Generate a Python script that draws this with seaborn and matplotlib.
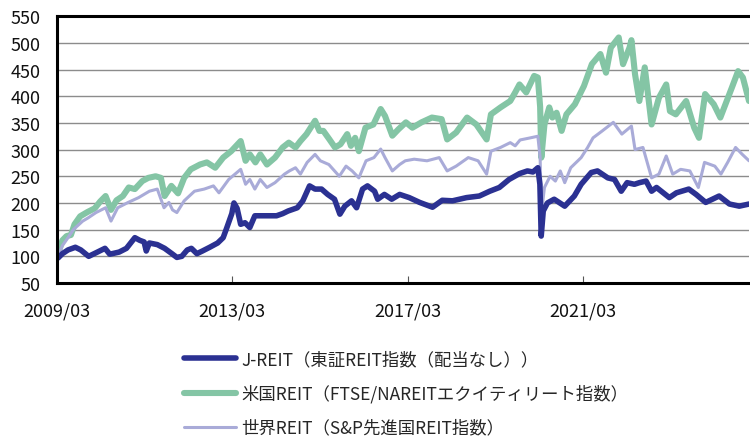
import matplotlib
matplotlib.use("Agg")
import matplotlib.pyplot as plt
import seaborn as sns
import pandas as pd

# ---------------- data ----------------
jreit_dates = ["2009-03-10","2009-04-15","2009-06-01","2009-08-01","2009-09-15","2009-11-20",
    "2010-02-01","2010-04-05","2010-05-15","2010-08-01","2010-10-01","2010-12-10",
    "2011-01-20","2011-02-25","2011-03-15","2011-04-10","2011-06-15","2011-08-15","2011-10-15","2011-11-25",
    "2012-01-05","2012-02-20","2012-03-25","2012-05-10","2012-06-25","2012-08-25","2012-10-30","2012-12-15",
    "2013-01-15","2013-02-25","2013-03-15","2013-04-10","2013-05-10","2013-06-15","2013-07-25","2013-09-05","2013-12-10",
    "2014-03-05","2014-04-25","2014-06-10","2014-08-25","2014-10-10","2014-12-05",
    "2015-01-20","2015-03-15","2015-05-05","2015-07-01","2015-08-15","2015-09-25","2015-11-20",
    "2016-01-01","2016-02-20","2016-04-01","2016-05-30","2016-06-25","2016-08-20","2016-10-20","2016-12-25",
    "2017-03-15","2017-06-10","2017-09-25","2017-12-15",
    "2018-03-10","2018-07-05","2018-10-20",
    "2019-01-15","2019-04-05","2019-06-25","2019-09-20","2019-11-25",
    "2020-01-10","2020-02-20","2020-03-08","2020-03-19","2020-04-05","2020-05-10","2020-07-05","2020-10-01","2020-12-20",
    "2021-02-15","2021-05-10","2021-07-01","2021-09-25","2021-11-20",
    "2022-01-15","2022-03-05","2022-05-05","2022-06-15","2022-08-10","2022-09-25","2022-11-05",
    "2023-02-20","2023-04-20","2023-08-01","2023-10-01","2023-12-20",
    "2024-04-10","2024-07-05","2024-09-25","2024-12-15"]
jreit_vals = [97,105,112,117,112,100,
    108,115,104,108,115,135,
    130,127,110,125,122,115,105,98,
    100,112,115,105,110,117,125,135,
    154,180,200,190,160,163,154,176,176,
    176,180,185,191,204,232,
    226,226,216,207,179,194,204,
    191,226,232,222,207,216,207,216,
    210,201,192,205,
    204,210,213,
    222,229,244,255,260,
    258,266,235,138,185,200,207,194,213,
    235,257,260,247,244,
    222,238,235,238,241,222,229,
    210,219,226,216,201,
    213,198,194,198]

us_dates = ["2009-03-10","2009-04-15","2009-05-20","2009-06-25","2009-07-25","2009-09-10","2009-11-10",
    "2010-01-10","2010-02-25","2010-04-10","2010-05-25","2010-07-10","2010-09-01","2010-10-20","2010-12-10",
    "2011-02-10","2011-04-01","2011-06-01","2011-07-15","2011-08-15","2011-10-10","2011-12-05",
    "2012-01-25","2012-03-20","2012-06-05","2012-08-01","2012-10-10","2012-12-15",
    "2013-02-20","2013-05-10","2013-06-20","2013-07-25","2013-09-10","2013-10-20","2013-12-15",
    "2014-02-20","2014-04-25","2014-06-15","2014-08-10","2014-09-20","2014-11-10",
    "2015-01-20","2015-02-25","2015-03-30","2015-05-20","2015-07-05","2015-08-20","2015-10-15","2015-11-15","2015-12-20",
    "2016-01-20","2016-03-15","2016-05-20","2016-07-20","2016-08-25","2016-10-25","2016-12-15",
    "2017-02-15","2017-04-10","2017-06-25","2017-09-20","2017-12-10",
    "2018-01-25","2018-04-10","2018-07-10","2018-09-25","2018-12-20",
    "2019-01-25","2019-04-15","2019-07-05","2019-08-15","2019-09-20","2019-11-15",
    "2020-01-20","2020-02-20","2020-03-10","2020-03-20","2020-04-15","2020-05-25","2020-06-20","2020-07-25","2020-09-05","2020-10-15","2020-12-25",
    "2021-03-10","2021-05-15","2021-07-25","2021-09-10","2021-10-20","2021-12-25",
    "2022-01-30","2022-03-25","2022-04-10","2022-05-10","2022-06-15","2022-07-30","2022-09-25","2022-11-25",
    "2023-01-25","2023-02-25","2023-04-15","2023-07-10","2023-09-15","2023-10-25","2023-12-15",
    "2024-02-25","2024-04-20","2024-07-25","2024-09-15","2024-10-25","2024-12-15"]
us_vals = [105,130,138,140,160,175,183,
    190,203,213,187,205,213,229,226,
    241,247,250,247,213,232,218,
    247,263,272,276,266,285,
    297,316,279,291,276,291,272,
    285,304,313,304,316,329,
    354,335,335,319,304,310,329,307,322,
    297,341,347,376,363,326,338,
    351,341,351,360,357,
    319,332,360,347,319,
    366,379,391,407,422,407,
    438,435,380,285,347,379,360,369,335,366,385,
    419,460,479,444,491,510,
    460,491,505,441,391,454,347,397,
    422,372,366,391,341,322,404,
    385,360,416,447,435,391]

world_dates = ["2009-03-10","2009-04-15","2009-06-01","2009-07-15","2009-10-01","2009-11-15",
    "2010-01-20","2010-04-10","2010-05-25","2010-07-20","2010-10-15",
    "2011-01-10","2011-04-10","2011-06-15","2011-08-10","2011-09-20","2011-10-20","2011-11-25",
    "2012-01-25","2012-04-20","2012-07-10","2012-09-25","2012-11-10",
    "2013-01-30","2013-05-10","2013-06-20","2013-07-25","2013-09-05","2013-10-20","2013-12-15",
    "2014-02-20","2014-05-10","2014-06-20","2014-08-10","2014-09-20","2014-11-15",
    "2015-01-20","2015-03-05","2015-05-15","2015-08-10","2015-10-05","2015-11-25",
    "2016-01-20","2016-03-20","2016-05-25","2016-07-20","2016-08-25","2016-10-25","2016-12-25",
    "2017-02-10","2017-04-25","2017-08-10","2017-11-20",
    "2018-01-25","2018-04-10","2018-07-20","2018-10-10","2018-12-20",
    "2019-01-25","2019-04-15","2019-07-05","2019-08-15","2019-09-25","2019-12-20",
    "2020-02-20","2020-03-10","2020-03-20","2020-04-15","2020-06-01","2020-07-15","2020-08-25","2020-10-01","2020-11-20",
    "2021-02-15","2021-04-10","2021-05-25","2021-08-10","2021-11-10",
    "2022-01-20","2022-04-10","2022-05-10","2022-07-15","2022-09-25","2022-11-25",
    "2023-01-25","2023-03-20","2023-05-25","2023-08-10","2023-10-20","2023-12-10",
    "2024-03-05","2024-04-25","2024-06-20","2024-08-25","2024-10-20","2024-12-15"]
world_vals = [100,120,135,150,166,172,
    182,191,166,191,201,
    210,222,226,191,201,187,182,
    204,222,226,232,219,
    244,263,235,244,226,244,229,
    238,254,260,266,254,276,
    291,279,272,250,269,260,
    247,279,285,301,285,260,272,
    279,282,279,285,
    260,269,285,279,254,
    297,304,313,307,318,322,
    325,285,180,229,250,241,260,238,266,
    285,304,322,335,351,
    329,344,300,304,247,254,
    288,254,263,260,229,276,
    269,254,276,304,291,279]

labels = ["J-REIT（東証REIT指数（配当なし））",
          "米国REIT（FTSE/NAREITエクイティリート指数）",
          "世界REIT（S&P先進国REIT指数）"]
colors = ["#2b3192", "#84c5a5", "#a9abd8"]
y_ticks = list(range(50, 551, 50))
x_tick_dates = ["2009-03-01", "2013-03-01", "2017-03-01", "2021-03-01"]
x_tick_labels = ["2009/03", "2013/03", "2017/03", "2021/03"]

# ---------------- plot ----------------
sns.set_theme(style="white")
plt.rcParams["font.family"] = ["Noto Sans CJK JP", "DejaVu Sans"]

fig = plt.figure(figsize=(7.5, 4.39), dpi=100)
ax = fig.add_axes([0.076, 0.353, 0.923, 0.608])

series = [
    (us_dates, us_vals, labels[1], colors[1], 4.4),
    (world_dates, world_vals, labels[2], colors[2], 2.2),
    (jreit_dates, jreit_vals, labels[0], colors[0], 4.0),
]
handles = {}
for d, v, lab, col, lw in series:
    df = pd.DataFrame({"date": pd.to_datetime(d), "value": v})
    sns.lineplot(data=df, x="date", y="value", ax=ax, color=col, linewidth=lw,
                 legend=False, solid_joinstyle="round", solid_capstyle="round")
    handles[lab] = ax.lines[-1]

ax.set_ylim(50, 550)
ax.set_yticks(y_ticks)
ax.set_yticklabels([str(t) for t in y_ticks], fontsize=13)
ax.set_xlim(pd.Timestamp("2009-03-01"), pd.Timestamp("2024-12-17"))
ax.set_xticks(pd.to_datetime(x_tick_dates))
ax.set_xticklabels(x_tick_labels, fontsize=13)
ax.set_xlabel("")
ax.set_ylabel("")

ax.grid(axis="y", color="#8c8c8c", linewidth=1.0)
ax.grid(axis="x", visible=False)
ax.set_axisbelow(True)

ax.tick_params(axis="y", length=0, pad=12, labelcolor="#111111")
ax.tick_params(axis="x", direction="in", length=5, width=0.8, color="#555555",
               pad=13, labelcolor="#111111", bottom=True)

for side in ["left", "top", "bottom"]:
    ax.spines[side].set_visible(True)
    ax.spines[side].set_color("black")
    ax.spines[side].set_linewidth(2.2)
ax.spines["right"].set_visible(False)

leg_handles = [handles[l] for l in labels]
leg = fig.legend(leg_handles, labels, loc="upper left", bbox_to_anchor=(0.245, 0.2),
           frameon=False, fontsize=12.5, handlelength=3.0, handletextpad=0.3,
           labelspacing=0.92, borderpad=0, borderaxespad=0)

fig.savefig("out.png", dpi=100)
